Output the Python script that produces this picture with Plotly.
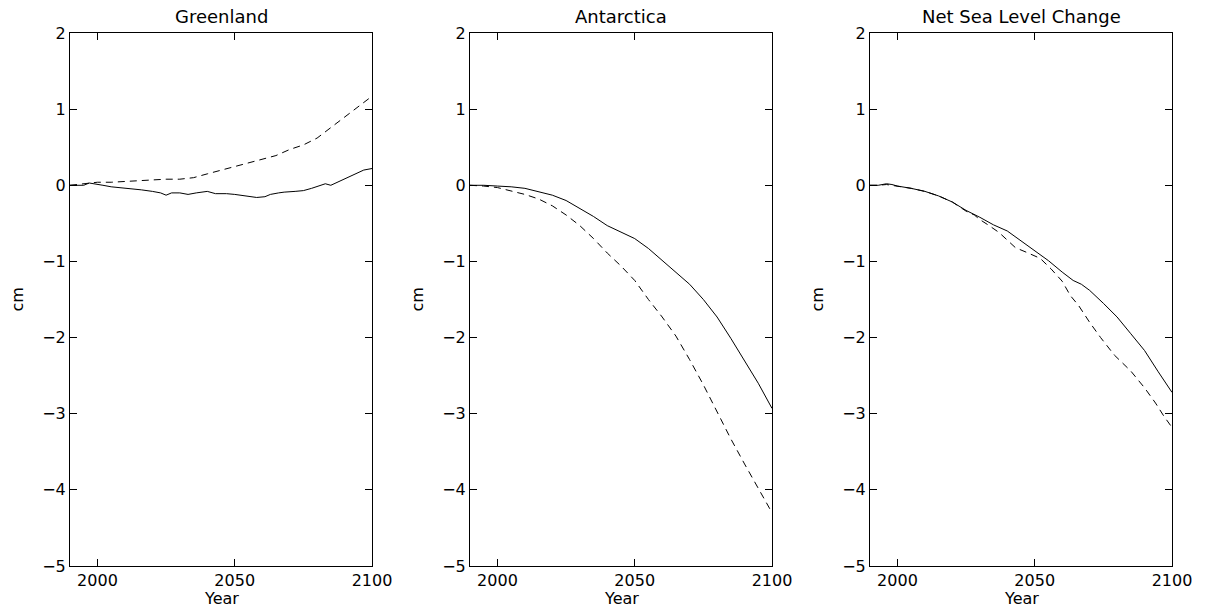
import plotly.graph_objects as go

# ---------------- data ----------------
gl_solid_years = [1990, 1993, 1995, 1997, 1999, 2002, 2005, 2008, 2012, 2016, 2020, 2023, 2025, 2027,
                  2030, 2033, 2036, 2040, 2043, 2047, 2050, 2054, 2058, 2061, 2063, 2066, 2068, 2072,
                  2075, 2078, 2081, 2083, 2085, 2088, 2091, 2094, 2097, 2100]
gl_solid = [0.00, 0.00, 0.00, 0.03, 0.02, 0.00, -0.02, -0.03, -0.04, -0.06, -0.08, -0.10, -0.13, -0.10,
            -0.10, -0.12, -0.10, -0.08, -0.11, -0.11, -0.12, -0.14, -0.16, -0.15, -0.12, -0.10, -0.09, -0.08,
            -0.07, -0.04, -0.01, 0.02, 0.00, 0.05, 0.10, 0.15, 0.20, 0.22]

gl_dash_years = [1990, 1995, 2000, 2005, 2010, 2015, 2020, 2025, 2030, 2035, 2040, 2045, 2050, 2055,
                 2060, 2065, 2070, 2075, 2080, 2085, 2090, 2095, 2100]
gl_dash = [0.00, 0.02, 0.04, 0.04, 0.05, 0.06, 0.07, 0.08, 0.08, 0.10, 0.15, 0.20, 0.24, 0.29,
           0.34, 0.39, 0.47, 0.53, 0.62, 0.76, 0.90, 1.03, 1.17]

an_years = [1990, 1995, 2000, 2005, 2010, 2015, 2020, 2025, 2030, 2035, 2040, 2045, 2050, 2055,
            2060, 2065, 2070, 2075, 2080, 2085, 2090, 2095, 2100]
an_solid = [0.00, 0.00, -0.01, -0.02, -0.04, -0.08, -0.13, -0.20, -0.30, -0.41, -0.53, -0.62, -0.70, -0.83,
            -0.99, -1.14, -1.30, -1.50, -1.73, -2.01, -2.30, -2.60, -2.93]
an_dash = [0.00, -0.01, -0.03, -0.07, -0.12, -0.18, -0.27, -0.39, -0.53, -0.70, -0.89, -1.06, -1.25, -1.50,
           -1.73, -1.98, -2.29, -2.62, -2.98, -3.33, -3.66, -3.98, -4.30]

net_solid_years = [1990, 1993, 1996, 1998, 2000, 2005, 2010, 2015, 2020, 2025, 2030, 2035, 2040, 2045,
                   2050, 2055, 2060, 2064, 2067, 2070, 2075, 2080, 2085, 2090, 2095, 2100]
net_solid = [0.00, 0.00, 0.02, 0.01, -0.01, -0.04, -0.08, -0.14, -0.22, -0.33, -0.42, -0.52, -0.60, -0.73,
             -0.86, -0.99, -1.14, -1.25, -1.30, -1.38, -1.55, -1.73, -1.95, -2.17, -2.45, -2.72]

net_dash_years = [1990, 1993, 1996, 2000, 2005, 2010, 2015, 2020, 2025, 2028, 2030, 2033, 2037, 2040,
                  2043, 2047, 2052, 2056, 2060, 2063, 2066, 2070, 2074, 2079, 2085, 2090, 2094, 2097, 2100]
net_dash = [0.00, 0.00, 0.01, -0.01, -0.04, -0.08, -0.14, -0.22, -0.34, -0.39, -0.45, -0.52, -0.62, -0.72,
            -0.82, -0.88, -0.96, -1.10, -1.26, -1.45, -1.58, -1.80, -2.00, -2.23, -2.44, -2.66, -2.86, -3.03, -3.18]

titles = ["Greenland", "Antarctica", "Net Sea Level Change"]
x_title = "Year"
y_title = "cm"
x_ticks = [2000, 2050, 2100]
y_ticks = [2, 1, 0, -1, -2, -3, -4, -5]

panels = [
    (gl_solid_years, gl_solid, gl_dash_years, gl_dash),
    (an_years, an_solid, an_years, an_dash),
    (net_solid_years, net_solid, net_dash_years, net_dash),
]

# ---------------- figure ----------------
FONT = "DejaVu Sans"
W, H = 1206, 607
ML, MR, MT, MB = 70, 34, 33, 41
pw = W - ML - MR
domains = [[0, 302 / pw], [400 / pw, 702 / pw], [800 / pw, 1.0]]
tf = dict(family=FONT, size=16, color="black")
ttf = dict(family=FONT, size=18, color="black")

fig = go.Figure()
for i, (sx, sy, dx, dy) in enumerate(panels):
    suf = "" if i == 0 else str(i + 1)
    fig.add_trace(go.Scatter(x=sx, y=sy, mode="lines", line=dict(color="black", width=1),
                             xaxis="x" + suf, yaxis="y" + suf, showlegend=False))
    fig.add_trace(go.Scatter(x=dx, y=dy, mode="lines", line=dict(color="black", width=1, dash="7px,5px"),
                             xaxis="x" + suf, yaxis="y" + suf, showlegend=False))

    ax = dict(domain=domains[i], range=[1990, 2100], tickvals=x_ticks, ticks="inside", ticklen=7,
              tickcolor="black", showline=True, linecolor="black", linewidth=1, mirror="ticks",
              showgrid=False, zeroline=False, anchor="y" + suf, tickfont=tf)
    ay = dict(domain=[0, 1], range=[-5, 2], tickvals=y_ticks, ticks="inside", ticklen=7,
              tickcolor="black", showline=True, linecolor="black", linewidth=1, mirror="ticks",
              showgrid=False, zeroline=False, anchor="x" + suf, tickfont=tf)
    fig.update_layout({"xaxis" + suf: ax, "yaxis" + suf: ay})

    xc = (domains[i][0] + domains[i][1]) / 2
    fig.add_annotation(text=titles[i], x=xc, y=1, xref="paper", yref="paper",
                       xanchor="center", yanchor="middle", yshift=17, showarrow=False, font=ttf)
    fig.add_annotation(text=x_title, x=xc, y=0, xref="paper", yref="paper",
                       xanchor="center", yanchor="middle", yshift=-32, showarrow=False, font=tf)
    fig.add_annotation(text=y_title, x=domains[i][0], y=0.5, xref="paper", yref="paper",
                       xanchor="center", yanchor="middle", xshift=-53, textangle=-90,
                       showarrow=False, font=tf)

fig.update_layout(width=W, height=H, margin=dict(l=ML, r=MR, t=MT, b=MB),
                  paper_bgcolor="white", plot_bgcolor="white", font=tf)

# remove the default 8px page margin so the figure fills the window exactly
fig.write_html("out.html", config={"displayModeBar": False},
               post_script="document.body.style.margin='0';")
